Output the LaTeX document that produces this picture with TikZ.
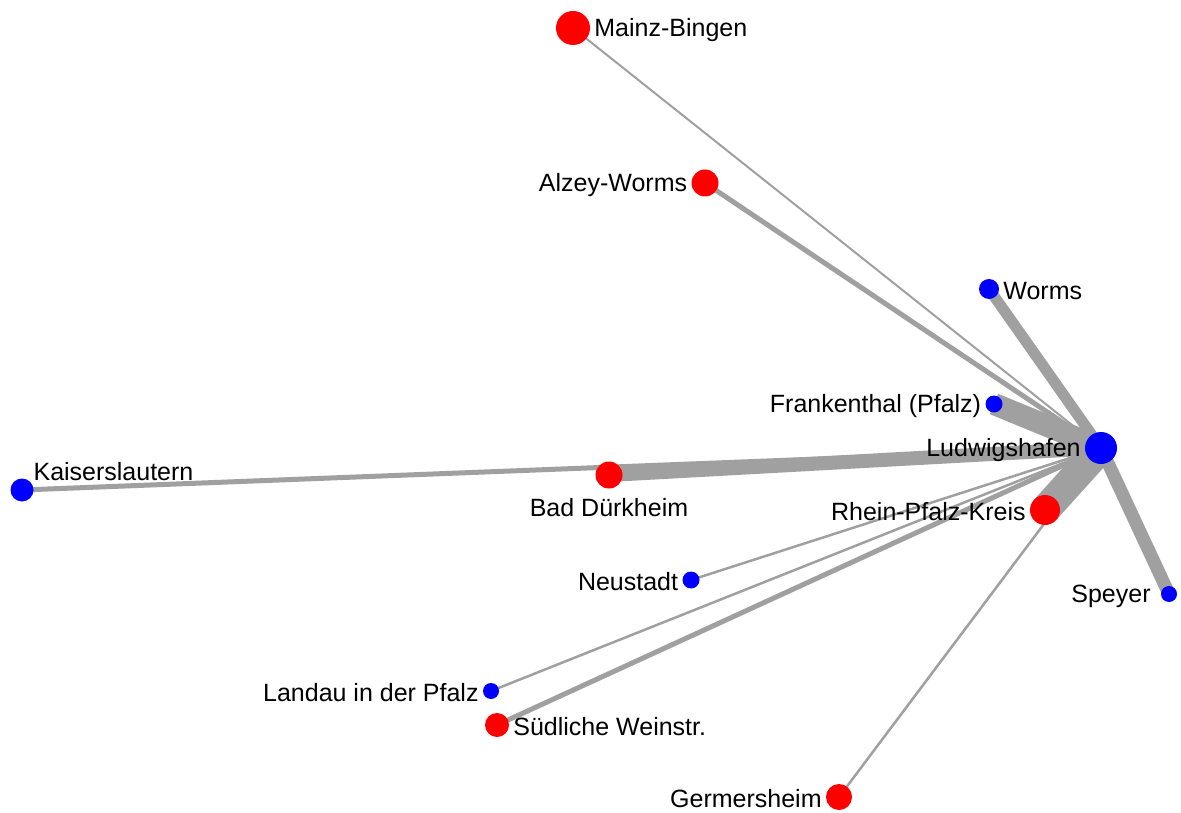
\documentclass[tikz,border=0pt]{standalone}
\usepackage{fontspec}
\setmainfont{Liberation Sans}
\usetikzlibrary{backgrounds}

\definecolor{kreisred}{RGB}{255,0,0}
\definecolor{stadtblue}{RGB}{0,0,255}
\definecolor{flowgray}{RGB}{160,160,160}

\tikzset{
    kreis/.style={circle, fill=kreisred, inner sep=0pt, minimum size=#1},
    stadt/.style={circle, fill=stadtblue, inner sep=0pt, minimum size=#1},
    flow/.style={draw=flowgray, line width=#1},
    every label/.style={font=\fontsize{25}{28}\selectfont, inner sep=1pt, yshift=-2pt},
    label distance=3pt
}

\begin{document}
\begin{tikzpicture}[x=1pt,y=-1pt]
    \useasboundingbox (0,0) rectangle (1181,813);
    % centre
    \node[stadt=32pt, label=left:Ludwigshafen] (lu) at (1101,448) {};
    % north
    \node[kreis=34pt, label=right:Mainz-Bingen] (mainz) at (573,28) {};
    \node[kreis=27pt, label=left:Alzey-Worms] (alzey) at (705,183) {};
    \node[stadt=20pt, label=right:Worms] (worms) at (989,289) {};
    \node[stadt=17pt, label=left:Frankenthal (Pfalz)] (frankenthal) at (994,404) {};
    % west
    \node[stadt=23pt, label={[anchor=south west]north east:Kaiserslautern}] (kl) at (22,490) {};
    \node[kreis=27pt, label={[label distance=6pt]below:Bad Dürkheim}] (duerkheim) at (609,475) {};
    % south
    \node[kreis=30pt, label=left:Rhein-Pfalz-Kreis] (rpk) at (1045,510) {};
    \node[stadt=16pt, label={[label distance=9pt]left:Speyer}] (speyer) at (1169,594) {};
    \node[stadt=17pt, label=left:Neustadt] (neustadt) at (691,580) {};
    \node[stadt=16pt, label=left:Landau in der Pfalz] (landau) at (491,691) {};
    \node[kreis=24pt, label=right:Südliche Weinstr.] (suew) at (497,725) {};
    \node[kreis=26pt, label=left:Germersheim] (germersheim) at (839,797) {};
    % flows into Ludwigshafen
    \begin{scope}[on background layer]
        \foreach \n/\w in {mainz/2, alzey/5, worms/11, frankenthal/22, kl/5,
                           duerkheim/14, rpk/30, speyer/13, neustadt/2.5,
                           landau/2.5, suew/5, germersheim/2.5}
            \draw[flow=\w pt] (\n.center) -- (lu.center);
    \end{scope}
\end{tikzpicture}
\end{document}
